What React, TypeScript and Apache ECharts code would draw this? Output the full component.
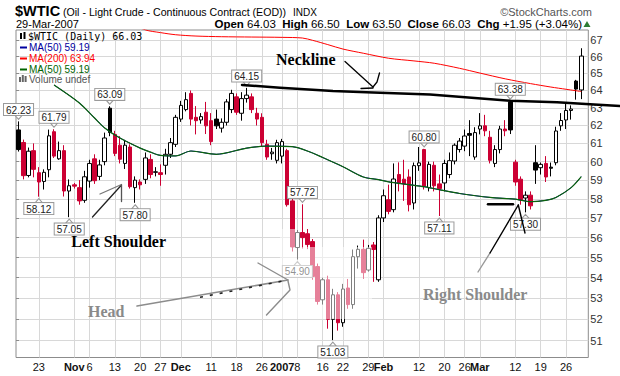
import React, { useEffect, useRef } from 'react';
import * as echarts from 'echarts';

// ---------- data ----------
const candleDates = [
  '2006-10-17','2006-10-18','2006-10-19','2006-10-20','2006-10-23','2006-10-24','2006-10-25','2006-10-26','2006-10-27','2006-10-30','2006-10-31',
  '2006-11-01','2006-11-02','2006-11-03','2006-11-06','2006-11-07','2006-11-08','2006-11-09','2006-11-10','2006-11-13','2006-11-14','2006-11-15','2006-11-16','2006-11-17','2006-11-20','2006-11-21','2006-11-22','2006-11-24','2006-11-27','2006-11-28','2006-11-29','2006-11-30',
  '2006-12-01','2006-12-04','2006-12-05','2006-12-06','2006-12-07','2006-12-08','2006-12-11','2006-12-12','2006-12-13','2006-12-14','2006-12-15','2006-12-18','2006-12-19','2006-12-20','2006-12-21','2006-12-22','2006-12-26','2006-12-27','2006-12-28','2006-12-29',
  '2007-01-03','2007-01-04','2007-01-05','2007-01-08','2007-01-09','2007-01-10','2007-01-11','2007-01-12','2007-01-16','2007-01-17','2007-01-18','2007-01-19','2007-01-22','2007-01-23','2007-01-24','2007-01-25','2007-01-26','2007-01-29','2007-01-30','2007-01-31',
  '2007-02-01','2007-02-02','2007-02-05','2007-02-06','2007-02-07','2007-02-08','2007-02-09','2007-02-12','2007-02-13','2007-02-14','2007-02-15','2007-02-16','2007-02-20','2007-02-21','2007-02-22','2007-02-23','2007-02-26','2007-02-27','2007-02-28',
  '2007-03-01','2007-03-02','2007-03-05','2007-03-06','2007-03-07','2007-03-08','2007-03-09','2007-03-12','2007-03-13','2007-03-14','2007-03-15','2007-03-16','2007-03-19','2007-03-20','2007-03-21','2007-03-22','2007-03-23','2007-03-26','2007-03-27','2007-03-28','2007-03-29',
];

const openPrices = [
  61.75,61.05,59.25,60.6,59.4,58.93,59.56,61.65,60.15,60.6,58.42,
  58.75,58.6,57.93,58.95,60.15,59.2,60.0,62.98,61.5,60.9,59.9,60.8,58.6,58.9,59.04,60.12,59.42,59.4,59.8,60.4,60.95,
  62.36,62.9,63.83,62.46,62.31,62.75,62.27,62.36,61.85,62.18,62.9,63.63,62.69,63.53,63.63,62.69,62.46,60.95,60.43,60.07,
  60.3,60.6,57.9,55.5,56.26,56.2,55.8,54.55,52.93,53.9,52.0,53.17,51.84,53.5,52.7,55.04,55.41,54.38,55.63,53.9,
  57.01,57.96,57.44,59.3,59.05,59.17,57.79,59.78,60.66,58.6,59.8,58.8,58.85,59.3,60.03,60.66,60.85,61.55,60.25,
  61.8,61.98,61.34,59.9,60.66,61.8,63.33,59.97,59.05,58.05,58.2,59.94,59.67,59.9,59.7,59.94,61.98,62.31,62.85,64.55,64.03,
];
const highPrices = [
  62.23,61.21,60.77,61.0,59.7,59.58,61.77,61.79,61.1,60.9,59.04,
  58.85,59.0,59.5,60.1,60.4,60.1,61.6,63.09,61.7,61.4,61.2,60.95,59.2,59.04,60.5,60.4,59.7,59.85,60.7,61.3,62.6,
  63.4,63.9,64.0,63.1,62.7,63.34,62.7,62.9,62.4,63.5,64.04,63.83,63.9,64.15,63.83,63.0,62.69,61.2,60.75,61.2,
  61.25,60.7,58.04,56.4,57.72,56.44,55.93,54.7,54.0,54.1,53.46,53.3,53.7,53.94,55.4,55.6,55.9,55.63,55.78,57.15,
  58.5,58.76,59.9,59.96,60.1,59.58,59.95,60.8,60.7,60.0,60.0,59.3,60.1,60.5,61.0,61.3,61.77,62.3,61.9,
  62.7,62.6,61.7,60.9,61.98,62.3,63.38,60.1,59.2,58.4,58.4,60.9,59.95,60.3,59.95,61.93,62.7,63.27,63.14,64.62,66.5,
];
const lowPrices = [
  60.55,59.04,59.15,59.15,58.12,58.5,59.15,60.2,60.1,58.13,57.05,
  58.55,57.7,57.8,58.6,58.8,59.0,59.8,61.4,60.3,59.9,59.6,58.55,57.8,58.5,58.8,59.1,59.2,58.7,59.3,60.2,60.8,
  62.2,62.8,62.0,61.5,62.1,61.52,60.9,61.8,61.6,62.0,62.7,62.6,62.27,63.3,62.7,62.0,60.8,60.1,60.1,59.9,
  59.9,57.6,55.3,54.9,55.45,55.42,53.9,52.7,52.7,51.56,51.03,51.47,51.65,52.5,52.5,54.45,53.94,54.3,53.8,53.8,
  56.8,57.2,57.3,58.4,57.9,57.35,57.45,59.5,58.5,58.4,58.4,57.11,58.4,59.1,59.85,60.5,60.57,60.3,60.1,
  61.5,61.4,59.9,59.7,60.45,61.4,61.52,58.7,57.7,57.3,57.45,58.8,59.3,58.9,59.2,59.8,61.7,61.8,62.33,63.47,63.5,
];
const closePrices = [
  60.66,59.24,60.57,59.58,58.9,59.42,61.42,60.3,60.6,58.42,58.7,
  58.68,57.9,59.18,59.9,58.97,59.82,61.3,61.6,60.45,60.13,60.9,58.65,59.0,58.75,60.2,59.3,59.45,59.3,60.4,61.04,62.46,
  63.14,63.47,62.36,62.27,62.5,61.98,61.1,61.98,62.18,63.34,63.83,62.75,63.53,63.73,62.9,62.36,61.04,60.25,60.52,61.04,
  61.1,57.7,55.53,56.26,56.0,55.65,54.06,52.85,53.9,52.0,53.17,51.84,53.45,52.7,55.04,55.41,54.25,55.46,55.4,57.01,
  58.17,57.35,59.06,58.85,58.8,57.7,59.78,59.93,58.69,59.85,58.7,58.55,59.9,60.05,60.9,61.13,61.41,61.45,61.6,
  61.98,61.7,60.07,60.66,61.8,61.7,61.75,58.9,57.95,58.2,57.64,59.54,59.85,59.17,59.64,61.69,62.28,62.85,62.93,64.08,66.03,
];

// moving averages read at points along the curves
const ma50Points: [string, number][] = [
  ['2006-10-26',64.32],['2006-11-02',63.28],['2006-11-07',62.42],['2006-11-09',61.86],['2006-11-14',61.3],
  ['2006-11-20',60.74],['2006-11-22',60.52],['2006-11-27',60.34],['2006-11-30',60.31],['2006-12-05',60.58],
  ['2006-12-12',60.4],['2006-12-20',60.74],['2006-12-27',60.85],['2007-01-05',60.82],['2007-01-11',60.47],
  ['2007-01-16',60.22],['2007-01-22',59.72],['2007-01-26',59.17],['2007-01-31',59.03],['2007-02-02',58.91],
  ['2007-02-08',58.76],['2007-02-13',58.65],['2007-02-16',58.49],['2007-02-23',58.29],['2007-03-05',58.08],
  ['2007-03-12',57.99],['2007-03-15',57.86],['2007-03-20',57.93],['2007-03-22',58.08],['2007-03-27',58.6],
  ['2007-03-29',59.19],
];
const ma200Points: [string, number][] = [
  ['2006-11-14',68.3],['2006-11-21',67.62],['2006-11-27',67.45],['2006-11-30',67.32],['2006-12-06',67.24],
  ['2006-12-13',67.2],['2006-12-21',67.18],['2007-01-03',67.16],['2007-01-09',67.12],['2007-01-11',66.98],
  ['2007-01-17',66.72],['2007-01-22',66.45],['2007-01-26',66.2],['2007-02-02',65.9],['2007-02-09',65.74],
  ['2007-02-15',65.6],['2007-02-23',65.3],['2007-03-01',65.02],['2007-03-08',64.68],['2007-03-15',64.4],
  ['2007-03-21',64.2],['2007-03-26',64.07],['2007-03-29',63.94],
];

const peakDates = ['2006-10-17','2006-10-26','2006-11-10','2006-12-20','2007-01-09','2007-02-13','2007-03-09'];
const peakLabels = ['62.23','61.79','63.09','64.15','57.72','60.80','63.38'];
const troughDates = ['2006-10-23','2006-10-31','2006-11-17','2007-01-08','2007-01-18','2007-02-16','2007-03-14'];
const troughLabels = ['58.12','57.05','57.80','54.90','51.03','57.11','57.30'];

const yTicks = [51,52,53,54,55,56,57,58,59,60,61,62,63,64,65,66,67];
const xTickLabels: Record<string, string> = {
  '2006-10-23':'23','2006-11-01':'Nov','2006-11-06':'6','2006-11-13':'13','2006-11-20':'20','2006-11-27':'27',
  '2006-12-01':'Dec','2006-12-11':'11','2006-12-18':'18','2006-12-26':'26','2007-01-03':'2007','2007-01-08':'8',
  '2007-01-16':'16','2007-01-22':'22','2007-01-29':'29','2007-02-01':'Feb','2007-02-12':'12','2007-02-20':'20',
  '2007-02-26':'26','2007-03-01':'Mar','2007-03-12':'12','2007-03-19':'19','2007-03-26':'26',
};
const boldLabels = ['Nov','Dec','2007','Feb','Mar'];

// ---------- styling ----------
const RED = '#cc0033';
const SANS = "'Liberation Sans', Arial, sans-serif";
const SERIF = "'Liberation Serif', 'Times New Roman', serif";
const Y_MIN = 50.23;
const Y_MAX = 67.61;

function buildCandles() {
  return candleDates.map((d, i) => {
    const o = openPrices[i], c = closePrices[i];
    const prev = i === 0 ? c : closePrices[i - 1];
    const col = c >= prev ? '#000000' : RED;
    const fill = c >= o ? '#ffffff' : col;
    return {
      value: [o, c, lowPrices[i], highPrices[i]],
      itemStyle: { color: fill, color0: fill, borderColor: col, borderColor0: col, borderWidth: 1 },
    };
  });
}

function priceMarks() {
  const base = {
    symbol: 'triangle',
    symbolSize: [7, 4],
    itemStyle: { color: '#ffffff', borderColor: '#9a9a9a', borderWidth: 1 },
  };
  const lbl = {
    show: true,
    formatter: '{b}',
    fontSize: 10,
    lineHeight: 10,
    fontFamily: SANS,
    color: '#222',
    backgroundColor: '#ffffff',
    borderColor: '#9a9a9a',
    borderWidth: 1,
    padding: [1, 2, 0, 2],
    distance: 0,
  };
  const peaks = peakDates.map((d, k) => {
    const v = highPrices[candleDates.indexOf(d)];
    return { ...base, name: peakLabels[k], coord: [d, v], symbolRotate: 180, symbolOffset: [0, -4], label: { ...lbl, position: 'top' } };
  });
  const troughs = troughDates.map((d, k) => {
    const v = lowPrices[candleDates.indexOf(d)];
    return { ...base, name: troughLabels[k], coord: [d, v], symbolRotate: 0, symbolOffset: [0, 4], label: { ...lbl, position: 'bottom' } };
  });
  return [...peaks, ...troughs];
}

function txt(text: string, x: number, y: number, font: string, fill: string, align = 'left', z = 20) {
  return {
    type: 'text', z, silent: true,
    style: { text, x, y, font, fill, align, textAlign: align, verticalAlign: 'middle', textVerticalAlign: 'middle' },
  };
}
function pl(points: number[][], stroke: string, lineWidth: number, z = 60) {
  return { type: 'polyline', z, silent: true, shape: { points }, style: { stroke, lineWidth, fill: 'none', lineCap: 'round', lineJoin: 'round' } };
}
function rect(x: number, y: number, w: number, h: number, fill: string, z = 20) {
  return { type: 'rect', z, silent: true, shape: { x, y, width: w, height: h }, style: { fill } };
}

function buildGraphic() {
  const g: any[] = [];
  // header
  g.push(txt('$WTIC', 15, 11, `bold 14.5px ${SANS}`, '#000'));
  g.push(txt('(Oil - Light Crude - Continuous Contract (EOD))', 63, 12, `10.6px ${SANS}`, '#000'));
  g.push(txt('INDX', 293, 12, `10px ${SANS}`, '#000'));
  g.push(txt('\u00A9StockCharts.com', 592, 12, `11px ${SANS}`, '#555', 'right'));
  g.push(txt('29-Mar-2007', 16, 24, `11px ${SANS}`, '#000'));
  g.push({
    type: 'text', z: 20, silent: true,
    style: {
      text: '{b|Open} 64.03  {b|High} 66.50  {b|Low} 63.50  {b|Close} 66.03  {b|Chg} +1.95 (+3.04%)',
      x: 582, y: 24, align: 'right', textAlign: 'right', verticalAlign: 'middle', textVerticalAlign: 'middle',
      fontSize: 11.5, fontFamily: SANS, fill: '#000',
      rich: { b: { fontWeight: 'bold', fontSize: 11.5, fontFamily: SANS, fill: '#000' } },
    },
  });
  g.push({ type: 'polygon', z: 20, silent: true, shape: { points: [[583.5, 27], [590.5, 27], [587, 21]] }, style: { fill: '#2e7d32' } });

  // legend inside plot
  g.push(rect(20, 33, 2, 6, '#000'));
  g.push(rect(23.5, 32, 2, 7, '#000'));
  g.push(txt('$WTIC (Daily) 66.03', 28, 36.5, `10px 'DejaVu Sans Mono', monospace`, '#000'));
  g.push(rect(20, 46.5, 7, 2, '#0000a0'));
  g.push(txt('MA(50) 59.19', 29, 47.5, `10px ${SANS}`, '#0000a0'));
  g.push(rect(20, 57.5, 7, 2, '#ff0000'));
  g.push(txt('MA(200) 63.94', 29, 58.5, `10px ${SANS}`, '#ff0000'));
  g.push(rect(20, 68.5, 7, 2, '#006400'));
  g.push(txt('MA(50) 59.19', 29, 69.5, `10px ${SANS}`, '#006400'));
  g.push(rect(19, 77, 2, 5, '#666'));
  g.push(rect(21.8, 75, 2, 7, '#666'));
  g.push(rect(24.6, 76, 2, 6, '#666'));
  g.push(txt('Volume undef', 29, 79.5, `10px ${SANS}`, '#555'));

  // washed-out area around the head annotation
  g.push(rect(280, 229, 20, 90, 'rgba(255,255,255,0.5)', 50));
  g.push(rect(300, 247, 72, 72, 'rgba(255,255,255,0.5)', 50));

  // neckline
  g.push(pl([[242, 85], [280, 87.7], [333, 91], [373, 92.5], [430, 94.5], [510, 100.7], [557, 102.3], [590, 104.3], [620, 106]], '#000', 2.5));
  g.push(txt('Neckline', 276, 59, `bold 16px ${SERIF}`, '#000', 'left', 60));
  g.push(pl([[345, 61.5], [373, 87]], '#000', 1.3));
  g.push(pl([[373, 87], [377, 82], [379.5, 73]], '#000', 1.3));
  g.push(pl([[361, 88.5], [373, 88]], '#000', 1.3));

  // left shoulder
  g.push(txt('Left Shoulder', 166, 241, `bold 16px ${SERIF}`, '#000', 'right', 60));
  g.push(pl([[92.5, 217], [121.5, 185]], '#222', 1.3));
  g.push(pl([[100, 194], [121.5, 184.5]], '#777', 1.3));
  g.push(pl([[121.5, 185], [121.5, 201.5]], '#555', 1.3));

  // head
  g.push(txt('Head', 88, 311, `bold 16px ${SERIF}`, '#8a8a8a', 'left', 60));
  g.push(pl([[137, 306], [288, 280]], '#8c8c8c', 1.6));
  g.push({ type: 'polyline', z: 61, silent: true, shape: { points: [[200, 297.3], [288, 280]] }, style: { stroke: '#222', lineWidth: 1.6, fill: 'none', lineDash: [3, 7] } });
  g.push(pl([[258, 263], [288, 280]], '#8c8c8c', 1.4));
  g.push(pl([[288, 281], [290, 290], [266.5, 315]], '#8c8c8c', 1.4));

  // right shoulder
  g.push(txt('Right Shoulder', 423, 294, `bold 16px ${SERIF}`, '#8a8a8a', 'left', 60));
  g.push(pl([[478, 272], [490, 253]], '#999', 1.4));
  g.push(pl([[490, 253], [518.3, 205]], '#000', 1.4));
  g.push(pl([[518.3, 205], [525, 233]], '#000', 1.4));
  g.push(pl([[488, 204.3], [513, 204.3]], '#000', 2.5));
  return g;
}

function buildOption() {
  return {
    animation: false,
    backgroundColor: '#ffffff',
    grid: [
      { left: 16, right: 31.7, top: 30, bottom: 18.5, show: true, borderColor: '#8c8c8c', borderWidth: 1, backgroundColor: 'transparent' },
      { left: 16, right: 36.2, top: 30, bottom: 18.5 },
    ],
    xAxis: [
      { gridIndex: 0, type: 'value', min: 0, max: 1, show: false },
      {
        gridIndex: 1, type: 'category', data: candleDates, boundaryGap: true,
        axisLine: { show: false }, axisTick: { show: false },
        axisLabel: {
          interval: (_i: number, v: string) => v in xTickLabels,
          formatter: (v: string) => {
            const t = xTickLabels[v];
            if (!t) return '';
            return boldLabels.includes(t) ? `{b|${t}}` : `{n|${t}}`;
          },
          margin: 4,
          rich: {
            b: { fontWeight: 'bold', fontSize: 11, fontFamily: SANS, color: '#111' },
            n: { fontSize: 11, fontFamily: SANS, color: '#111' },
          },
        },
        splitLine: {
          show: true, alignWithLabel: true,
          interval: (_i: number, v: string) => v in xTickLabels,
          lineStyle: { color: '#d8d8d8', width: 1 },
        },
      },
    ],
    yAxis: [
      {
        gridIndex: 0, type: 'log', logBase: 10, min: Y_MIN, max: Y_MAX, position: 'right',
        axisLine: { show: false },
        axisTick: { show: true, length: 3, customValues: yTicks, lineStyle: { color: '#8c8c8c' } },
        axisLabel: { customValues: yTicks, margin: 2, fontSize: 11, fontFamily: SANS, color: '#333' },
        splitLine: { show: true, lineStyle: { color: '#d8d8d8', width: 1 } },
      },
      { gridIndex: 1, type: 'log', logBase: 10, min: Y_MIN, max: Y_MAX, show: false },
    ],
    series: [
      {
        type: 'candlestick', xAxisIndex: 1, yAxisIndex: 1, barWidth: 4, z: 2,
        data: buildCandles(),
        markPoint: { z: 6, data: priceMarks() },
      },
      {
        type: 'line', xAxisIndex: 1, yAxisIndex: 1, data: ma50Points, smooth: 0.3, symbol: 'none', z: 3,
        lineStyle: { color: '#0000a0', width: 1 },
      },
      {
        type: 'line', xAxisIndex: 1, yAxisIndex: 1, data: ma50Points, smooth: 0.3, symbol: 'none', z: 4,
        lineStyle: { color: '#0b640b', width: 1.2 },
      },
      {
        type: 'line', xAxisIndex: 1, yAxisIndex: 1, data: ma200Points, smooth: 0.3, symbol: 'none', z: 4,
        lineStyle: { color: '#ff0000', width: 1 },
      },
    ],
    graphic: buildGraphic(),
  };
}

export default function App() {
  const ref = useRef<HTMLDivElement>(null);
  useEffect(() => {
    if (!ref.current) return;
    const chart = echarts.init(ref.current, null, { renderer: 'svg' });
    chart.setOption(buildOption() as any);
    return () => chart.dispose();
  }, []);
  return <div ref={ref} style={{ position: 'fixed', left: 0, top: 0, width: 620, height: 376 }} />;
}
